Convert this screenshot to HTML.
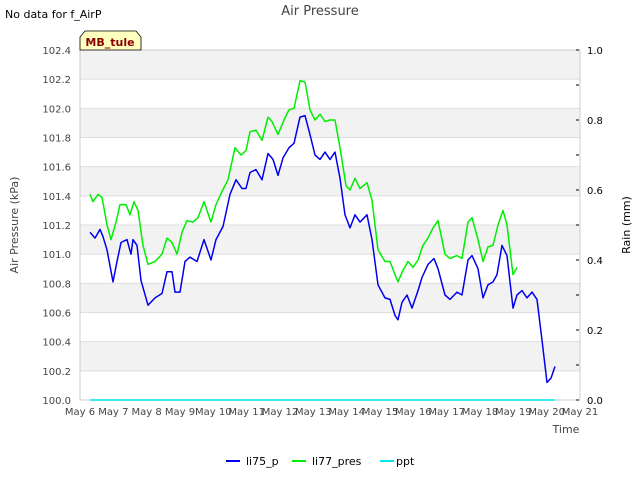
<!DOCTYPE html>
<html><head><meta charset="utf-8"><style>
body{margin:0;background:#fff;font-family:"Liberation Sans","DejaVu Sans",sans-serif}
svg text{font-family:"DejaVu Sans","Liberation Sans",sans-serif}
</style></head><body>
<svg id="chart" width="640" height="480" xmlns="http://www.w3.org/2000/svg">
<text x="5" y="18" font-size="11" fill="#000">No data for f_AirP</text>
<text x="320" y="15" font-size="13" fill="#444" text-anchor="middle">Air Pressure</text>
<g id="bands"></g>
<g id="grid"></g>
<rect x="80" y="50" width="500" height="350" fill="none" stroke="#ccc"/>
<g id="axes"></g>
<g id="series"></g>
<path d="M80,50 L80,37 L85,31 L136,31 L141,37 L141,50 Z" fill="#ffffc0" stroke="#000" stroke-width="0.8"/>
<text x="110" y="46" font-size="11" font-weight="bold" fill="#8b0000" text-anchor="middle">MB_tule</text>
<text transform="translate(18,225) rotate(-90)" font-size="11" fill="#444" text-anchor="middle">Air Pressure (kPa)</text>
<text transform="translate(630,225) rotate(-90)" font-size="11" fill="#000" text-anchor="middle">Rain (mm)</text>
<text x="566" y="433" font-size="11" fill="#444" text-anchor="middle">Time</text>
<g>
<line x1="226" y1="461" x2="240" y2="461" stroke="#0000ee" stroke-width="2"/>
<text x="246" y="465" font-size="11" fill="#000">li75_p</text>
<line x1="292" y1="461" x2="306" y2="461" stroke="#00ee00" stroke-width="2"/>
<text x="312" y="465" font-size="11" fill="#000">li77_pres</text>
<line x1="380" y1="461" x2="394" y2="461" stroke="#00e5ee" stroke-width="2"/>
<text x="396" y="465" font-size="11" fill="#000">ppt</text>
</g>
</svg>
<script>
const yTicks=["100.0","100.2","100.4","100.6","100.8","101.0","101.2","101.4","101.6","101.8","102.0","102.2","102.4"];
const y2Ticks=["0.0","0.2","0.4","0.6","0.8","1.0"];
const xTicks=["May 6","May 7","May 8","May 9","May 10","May 11","May 12","May 13","May 14","May 15","May 16","May 17","May 18","May 19","May 20","May 21"];
const bDays=[0.30,0.45,0.60,0.69,0.81,0.99,1.11,1.23,1.41,1.53,1.59,1.71,1.83,2.04,2.25,2.46,2.61,2.76,2.85,3.0,3.15,3.30,3.51,3.72,3.93,4.08,4.29,4.5,4.68,4.86,4.98,5.10,5.28,5.46,5.64,5.79,5.94,6.09,6.27,6.42,6.6,6.75,6.9,7.05,7.2,7.35,7.5,7.65,7.8,7.95,8.1,8.25,8.4,8.61,8.76,8.94,9.15,9.3,9.45,9.54,9.66,9.81,9.96,10.14,10.26,10.44,10.62,10.74,10.95,11.1,11.31,11.46,11.64,11.76,11.94,12.09,12.24,12.39,12.51,12.66,12.81,12.99,13.11,13.26,13.41,13.56,13.71,13.86,14.01,14.13,14.25];
const li75=[101.15,101.11,101.17,101.12,101.03,100.81,100.95,101.08,101.10,101.0,101.10,101.06,100.82,100.65,100.70,100.73,100.88,100.88,100.74,100.74,100.95,100.98,100.95,101.10,100.96,101.10,101.19,101.41,101.51,101.45,101.45,101.56,101.58,101.51,101.69,101.65,101.54,101.66,101.73,101.76,101.94,101.95,101.82,101.68,101.65,101.70,101.65,101.70,101.52,101.27,101.18,101.27,101.22,101.27,101.10,100.79,100.70,100.69,100.58,100.55,100.67,100.72,100.63,100.75,100.84,100.93,100.97,100.90,100.72,100.69,100.74,100.72,100.96,100.99,100.90,100.70,100.79,100.81,100.86,101.06,100.99,100.63,100.72,100.75,100.70,100.74,100.69,100.41,100.12,100.15,100.23];
const gDays=[0.30,0.39,0.54,0.66,0.81,0.93,1.08,1.20,1.38,1.50,1.62,1.74,1.89,2.04,2.25,2.46,2.61,2.76,2.91,3.06,3.21,3.39,3.54,3.72,3.93,4.08,4.26,4.44,4.65,4.83,4.98,5.10,5.28,5.46,5.64,5.76,5.94,6.12,6.27,6.42,6.6,6.75,6.9,7.05,7.2,7.35,7.5,7.65,7.8,7.98,8.1,8.25,8.4,8.61,8.76,8.94,9.15,9.3,9.45,9.54,9.69,9.84,9.99,10.14,10.29,10.44,10.59,10.74,10.95,11.1,11.31,11.46,11.64,11.76,11.94,12.09,12.24,12.39,12.54,12.69,12.81,12.99,13.11];
const li77=[101.41,101.36,101.41,101.39,101.2,101.1,101.22,101.34,101.34,101.27,101.36,101.30,101.06,100.93,100.95,101.0,101.11,101.08,101.0,101.15,101.23,101.22,101.25,101.36,101.22,101.34,101.43,101.51,101.73,101.68,101.71,101.84,101.85,101.78,101.94,101.91,101.82,101.92,101.99,102.0,102.19,102.18,101.99,101.92,101.96,101.91,101.92,101.92,101.73,101.47,101.44,101.52,101.45,101.49,101.37,101.03,100.95,100.95,100.86,100.81,100.89,100.95,100.91,100.96,101.06,101.11,101.18,101.23,101.0,100.97,100.99,100.97,101.22,101.25,101.10,100.95,101.05,101.06,101.2,101.30,101.2,100.86,100.91];
const pptDays=[0.30,14.25];
const ppt=[0,0];
const NS="http://www.w3.org/2000/svg";
const X0=80,X1=580,Y0=400,Y1=50;
function xs(d){return X0+(X1-X0)*d/15;}
function ys(v){return Y0-(v-100)/2.4*(Y0-Y1);}
function y2s(v){return Y0-v*(Y0-Y1);}
function mk(tag,attrs,parent){const e=document.createElementNS(NS,tag);for(const k in attrs)e.setAttribute(k,attrs[k]);document.getElementById(parent).appendChild(e);return e;}
for(let i=0;i<yTicks.length-1;i++){
  if(i%2===1){
    const r=mk('rect',{x:X0,y:ys(+yTicks[i+1]),width:X1-X0,height:ys(+yTicks[i])-ys(+yTicks[i+1]),fill:'#f2f2f2'},'bands');
    
    
  }
}
yTicks.forEach(t=>{
  const l=mk('line',{x1:X0,x2:X1,y1:ys(+t),y2:ys(+t),stroke:'#ddd'},'grid');
  
  
  const tx=mk('text',{x:X0-9,y:ys(+t)+4,'font-size':10,fill:'#444','text-anchor':'end'},'axes');
  tx.textContent=t;
  
  
});
for(let i=0;i<=10;i++){
  const v=i/10;
  const l=mk('line',{x1:X1-4,x2:X1-1,y1:y2s(v),y2:y2s(v),stroke:'#000'},'axes');
  
  
}
y2Ticks.forEach(t=>{
  const tx=mk('text',{x:X1+7,y:y2s(+t)+4,'font-size':10,fill:'#000'},'axes');
  tx.textContent=t;
  
  
});
xTicks.forEach((t,i)=>{
  const tx=mk('text',{x:xs(i),y:Y0+15,'font-size':10,fill:'#444','text-anchor':'middle'},'axes');
  tx.textContent=t;
  
  
});
function line(days,vals,scale,color,name){
  const d=days.map((t,i)=>(i?'L':'M')+xs(t).toFixed(1)+','+scale(vals[i]).toFixed(1)).join(' ');
  const p=mk('path',{d:d,fill:'none',stroke:color,'stroke-width':1.5,'stroke-linejoin':'round'},'series');
  
  
}
line(pptDays,ppt,y2s,'#00e5ee','ppt-line');
line(gDays,li77,ys,'#00ee00','li77-pres-line');
line(bDays,li75,ys,'#0000ee','li75-p-line');
</script>
</body></html>
